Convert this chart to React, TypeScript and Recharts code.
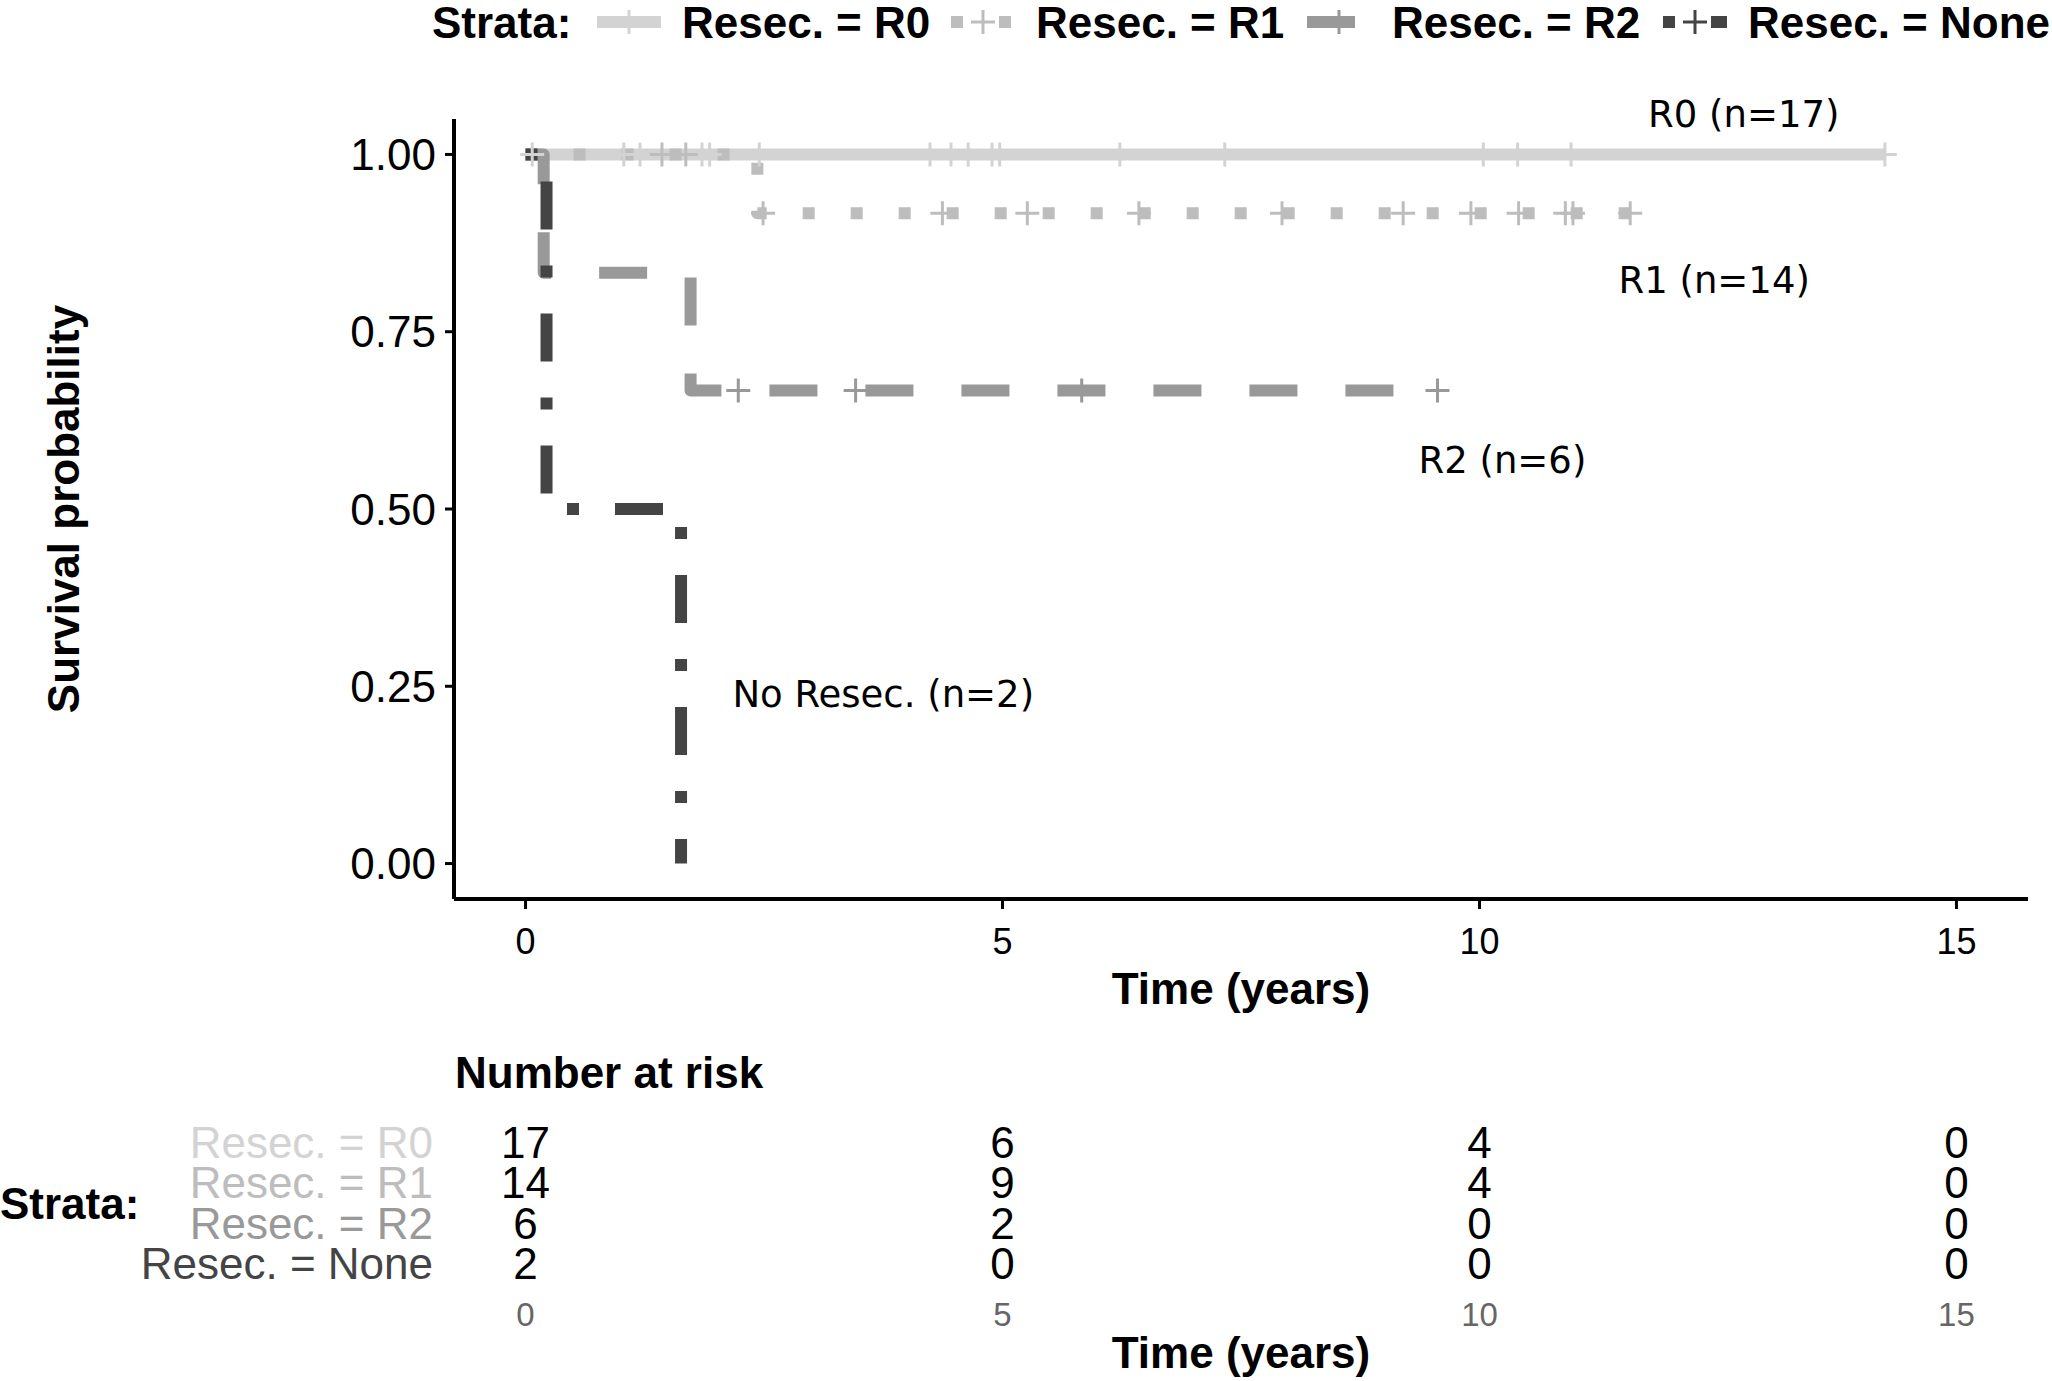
import { ComposedChart, Line, Scatter, XAxis, YAxis, ReferenceDot } from "recharts";

const FONT = '"Liberation Sans", Arial, Helvetica, sans-serif';
const ANNOT_FONT = '"DejaVu Sans", sans-serif';

const strata = ["Resec. = R0", "Resec. = R1", "Resec. = R2", "Resec. = None"];
const colors = ["#d3d3d3", "#bdbdbd", "#999999", "#444444"];
const dashes = [undefined, "12 36", "48 48", "12 36 48 36"];

// Kaplan-Meier steps (time in years, survival)
const r0Time = [0, 14.25];
const r0Surv = [1, 1];
const r1Time = [0, 2.43, 11.58];
const r1Surv = [1, 0.917, 0.917];
const r2Time = [0, 0.19, 1.73, 9.56];
const r2Surv = [1, 0.833, 0.667, 0.667];
const noneTime = [0, 0.22, 1.63];
const noneSurv = [1, 0.5, 0];

// censoring times
const r0Censor = [0.07, 1.03, 1.2, 1.85, 1.93, 2.45, 4.24, 4.46, 4.64, 4.89, 4.97, 6.23, 7.33, 10.04, 10.4, 10.96, 14.25];
const r1Censor = [1.43, 1.68, 2.49, 4.37, 5.26, 6.43, 7.93, 9.2, 9.91, 10.41, 10.9, 10.98, 11.58];
const r2Censor = [2.23, 3.46, 5.83, 9.56];
const noneCensor: number[] = [];

// number at risk
const riskTimes = [0, 5, 10, 15];
const riskR0 = [17, 6, 4, 0];
const riskR1 = [14, 9, 4, 0];
const riskR2 = [6, 2, 0, 0];
const riskNone = [2, 0, 0, 0];

const xTicks = [0, 5, 10, 15];
const yTicks = [0, 0.25, 0.5, 0.75, 1];

const annotations = [
  { text: "R0 (n=17)", t: 12.77, s: 1.057 },
  { text: "R1 (n=14)", t: 12.46, s: 0.822 },
  { text: "R2 (n=6)", t: 10.24, s: 0.568 },
  { text: "No Resec. (n=2)", t: 3.75, s: 0.238 },
];

const stepData = (time: number[], surv: number[]) => time.map((t, i) => ({ t, s: surv[i] }));

const survAt = (time: number[], surv: number[], t: number) => {
  let s = surv[0];
  time.forEach((tt, i) => {
    if (tt <= t) s = surv[i];
  });
  return s;
};

const curves = [
  { time: r0Time, surv: r0Surv, censor: r0Censor },
  { time: r1Time, surv: r1Surv, censor: r1Censor },
  { time: r2Time, surv: r2Surv, censor: r2Censor },
  { time: noneTime, surv: noneSurv, censor: noneCensor },
];

const riskRows = [riskR0, riskR1, riskR2, riskNone];
const riskData = riskRows.flatMap((row, r) => riskTimes.map((t, i) => ({ t, row: r, n: row[i] })));

const plus = (color: string) => (p: any) => (
  <path
    d={`M${p.cx - 12},${p.cy}H${p.cx + 12}M${p.cx},${p.cy - 12}V${p.cy + 12}`}
    stroke={color}
    strokeWidth={3}
    fill="none"
  />
);

function LegendKey({ x, i }: { x: number; i: number }) {
  return (
    <g>
      <line x1={x} x2={x + 64} y1={22} y2={22} stroke={colors[i]} strokeWidth={12} strokeDasharray={dashes[i]} />
      <path d={`M${x + 20},22H${x + 44}M${x + 32},10V34`} stroke={colors[i]} strokeWidth={3} />
    </g>
  );
}

export default function App() {
  const keyX = [597, 951, 1307, 1663];
  return (
    <div style={{ position: "absolute", left: 0, top: 0, width: 2052, height: 1381, background: "#fff", overflow: "hidden", fontFamily: FONT }}>
      <div style={{ position: "absolute", left: 0, top: 0 }}>
        <ComposedChart width={2052} height={1000} margin={{ top: 119, right: 24, bottom: 11, left: 354 }}>
          <XAxis
            type="number"
            dataKey="t"
            domain={[-0.75, 15.75]}
            ticks={xTicks}
            allowDataOverflow
            height={90}
            tickSize={10}
            tickMargin={19}
            axisLine={{ stroke: "#000", strokeWidth: 4 }}
            tickLine={{ stroke: "#000", strokeWidth: 3 }}
            tick={{ fill: "#000", fontSize: 36, fontFamily: FONT }}
          />
          <YAxis
            type="number"
            dataKey="s"
            domain={[-0.05, 1.05]}
            ticks={yTicks}
            allowDataOverflow
            width={100}
            tickSize={9}
            tickMargin={9}
            tickFormatter={(v: number) => v.toFixed(2)}
            axisLine={{ stroke: "#000", strokeWidth: 4 }}
            tickLine={{ stroke: "#000", strokeWidth: 3 }}
            tick={{ fill: "#000", fontSize: 44, fontFamily: FONT }}
          />
          {curves.map((c, i) => (
            <Line
              key={"l" + i}
              data={stepData(c.time, c.surv)}
              dataKey="s"
              type="stepAfter"
              stroke={colors[i]}
              strokeWidth={12}
              strokeDasharray={dashes[i]}
              strokeLinecap="butt"
              strokeLinejoin="round"
              dot={false}
              activeDot={false}
              isAnimationActive={false}
            />
          ))}
          {curves.map((c, i) => (
            <Scatter
              key={"c" + i}
              data={c.censor.map((t) => ({ t, s: survAt(c.time, c.surv, t) }))}
              shape={plus(colors[i])}
              isAnimationActive={false}
            />
          ))}
          {annotations.map((a) => (
            <ReferenceDot
              key={a.text}
              x={a.t}
              y={a.s}
              ifOverflow="visible"
              shape={(p: any) => (
                <text x={p.cx} y={p.cy} textAnchor="middle" dominantBaseline="central" fontSize={37} fontFamily={ANNOT_FONT} fill="#000">
                  {a.text}
                </text>
              )}
            />
          ))}
        </ComposedChart>
      </div>

      <div style={{ position: "absolute", left: 0, top: 1000 }}>
        <ComposedChart width={2052} height={381} margin={{ top: 118, right: 24, bottom: 33, left: 354 }}>
          <XAxis
            type="number"
            dataKey="t"
            domain={[-0.75, 15.75]}
            ticks={xTicks}
            allowDataOverflow
            height={60}
            tickSize={0}
            tickMargin={15}
            axisLine={false}
            tickLine={false}
            tick={{ fill: "#666666", fontSize: 33, fontFamily: FONT }}
          />
          <YAxis
            type="number"
            dataKey="row"
            domain={[-0.6, 3.6]}
            reversed
            ticks={[0, 1, 2, 3]}
            width={100}
            tickSize={0}
            tickMargin={21}
            axisLine={false}
            tickLine={false}
            tick={(p: any) => (
              <text x={p.x} y={p.y} textAnchor="end" dominantBaseline="central" fontSize={44} fontFamily={FONT} fill={colors[p.payload.value]}>
                {strata[p.payload.value]}
              </text>
            )}
          />
          <Scatter
            data={riskData}
            isAnimationActive={false}
            shape={(p: any) => (
              <text x={p.cx} y={p.cy} textAnchor="middle" dominantBaseline="central" fontSize={44} fontFamily={FONT} fill="#000">
                {p.payload.n}
              </text>
            )}
          />
        </ComposedChart>
      </div>

      <svg width={2052} height={1381} style={{ position: "absolute", left: 0, top: 0, pointerEvents: "none" }}>
        <text x={432} y={22} dominantBaseline="central" fontSize={44} fontWeight="bold" fontFamily={FONT}>Strata:</text>
        {strata.map((s, i) => (
          <g key={s}>
            <LegendKey x={keyX[i]} i={i} />
            <text x={keyX[i] + 85} y={22} dominantBaseline="central" fontSize={44} fontWeight="bold" fontFamily={FONT}>{s}</text>
          </g>
        ))}
        <text x={1241} y={988} textAnchor="middle" dominantBaseline="central" fontSize={44} fontWeight="bold" fontFamily={FONT}>Time (years)</text>
        <text x={63} y={509} transform="rotate(-90 63 509)" textAnchor="middle" dominantBaseline="central" fontSize={44} fontWeight="bold" fontFamily={FONT}>Survival probability</text>
        <text x={455} y={1072} dominantBaseline="central" fontSize={44} fontWeight="bold" fontFamily={FONT}>Number at risk</text>
        <text x={0} y={1203} dominantBaseline="central" fontSize={44} fontWeight="bold" fontFamily={FONT}>Strata:</text>
        <text x={1241} y={1352} textAnchor="middle" dominantBaseline="central" fontSize={44} fontWeight="bold" fontFamily={FONT}>Time (years)</text>
      </svg>
    </div>
  );
}
